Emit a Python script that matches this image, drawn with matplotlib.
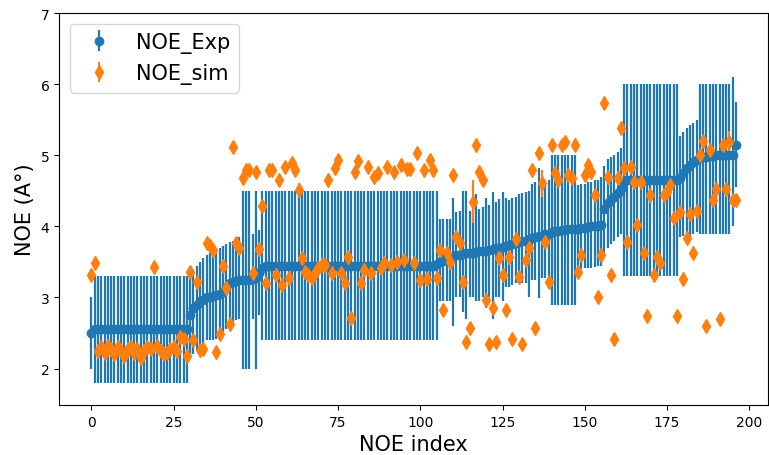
import matplotlib
matplotlib.use("Agg")
import matplotlib.pyplot as plt
import numpy as np

# Experimental NOE values (index 0..196)
noe_exp = ([2.5] + [2.55] * 29 +
           [2.75, 2.85, 2.9, 2.95, 2.97, 3.0, 3.0, 3.02, 3.03, 3.05,
            3.08, 3.15, 3.2, 3.22, 3.23, 3.24, 3.25, 3.25, 3.25, 3.26,
            3.28, 3.35, 3.42] +
           [3.45] * 52 +
           [3.47, 3.5, 3.52, 3.55, 3.57, 3.58, 3.6, 3.6, 3.61, 3.62,
            3.62, 3.63, 3.64, 3.65, 3.65, 3.66, 3.67, 3.68, 3.69, 3.7,
            3.71, 3.73, 3.74, 3.75, 3.77, 3.78, 3.79, 3.8, 3.82, 3.83,
            3.85, 3.86, 3.87, 3.89, 3.9, 3.92, 3.93, 3.94, 3.95, 3.95,
            3.96, 3.96, 3.97, 3.97, 3.98, 3.98, 3.99, 4.0, 4.0, 4.01,
            4.02, 4.25, 4.33, 4.38, 4.42, 4.47, 4.52, 4.62] +
           [4.65] * 16 +
           [4.68, 4.75, 4.82, 4.86, 4.9, 4.93, 4.96, 4.98, 4.98, 4.99,
            4.99, 5.0, 5.0, 5.0, 5.0, 5.0, 5.0, 5.15])

# Lower / upper experimental bounds
exp_low = ([2.0] + [1.8] * 29 +
           [2.15, 2.2, 2.25, 2.3, 2.35, 2.4, 2.4, 2.4, 2.42, 2.45,
            2.5, 2.55, 2.65, 2.66, 2.68, 2.7, 2.0, 2.0, 2.0, 2.7,
            2.0, 2.75] +
           [2.4] * 54 +
           [2.95, 2.95, 2.95, 2.95, 2.6, 3.0, 3.0, 2.8, 2.7, 3.0,
            3.0, 2.95, 2.95, 3.0, 2.85, 3.0, 2.7, 3.0, 3.0, 2.95,
            3.15, 3.15, 3.17, 3.2, 3.2, 3.2, 3.2, 3.0, 3.25, 3.25,
            2.99, 3.27, 3.27, 3.28] +
           [2.9] * 8 +
           [3.4, 3.4, 3.42, 3.42, 3.42, 3.43, 3.44, 3.45, 3.6, 3.7,
            3.75, 3.8, 3.85, 3.9] +
           [3.3] * 17 +
           [3.85, 3.87, 3.9, 3.8, 3.9, 3.92] +
           [3.9] * 10 +
           [4.0, 4.55])
exp_high = ([3.0] + [3.3] * 29 +
            [3.3, 3.38, 3.44, 3.5, 3.55, 3.6, 3.62, 3.65, 3.68, 3.7,
             3.72, 3.75, 3.78, 3.8, 3.82, 3.85, 4.5, 4.5, 4.5, 3.9,
             4.5, 3.95] +
            [4.5] * 54 +
            [4.1, 4.1, 4.1, 4.1, 4.4, 4.2, 4.22, 4.5, 4.5, 4.22,
             4.25, 4.45, 4.25, 4.27, 4.4, 4.3, 4.49, 4.35, 4.38, 4.49,
             4.4, 4.37, 4.4, 4.42, 4.45, 4.47, 4.49, 4.5, 4.6, 4.63,
             4.82, 4.63, 4.65, 4.65] +
            [5.0] * 8 +
            [4.58, 4.6, 4.6, 4.62, 4.63, 4.65, 4.65, 4.7, 4.85, 4.95,
             4.97, 5.0, 5.05, 5.1] +
            [6.0] * 17 +
            [5.27, 5.33, 5.38, 5.42, 5.45, 5.5] +
            [6.0] * 10 +
            [6.1, 5.75])

# Simulated NOE values
noe_sim = [3.32, 3.48, 2.25, 2.3, 2.22, 2.32, 2.28, 2.2, 2.3, 2.25,
           2.18, 2.28, 2.3, 2.22, 2.27, 2.15, 2.25, 2.3, 2.28, 3.43,
           2.32, 2.25, 2.2, 2.22, 2.27, 2.3, 2.25, 2.45, 2.42, 2.17,
           3.36, 2.4, 3.22, 2.26, 2.28, 3.76, 3.73, 3.67, 2.24, 2.49,
           3.45, 3.13, 2.63, 5.12, 3.76, 3.69, 4.68, 4.79, 4.8, 3.35,
           4.77, 3.68, 4.28, 3.2, 4.79, 4.8, 3.31, 4.65, 3.18, 4.84,
           3.27, 4.89, 4.79, 4.51, 3.55, 3.36, 3.31, 3.27, 3.34, 3.41,
           3.46, 3.46, 4.65, 3.34, 4.82, 4.93, 3.34, 3.2, 3.57, 2.71,
           4.77, 4.92, 3.21, 3.38, 4.83, 3.34, 4.7, 4.75, 3.41, 3.48,
           4.84, 3.46, 4.77, 3.5, 4.86, 3.53, 4.81, 4.81, 3.49, 5.03,
           3.24, 4.79, 3.26, 4.93, 4.79, 3.27, 3.67, 2.82, 3.62, 3.5,
           4.73, 3.85, 3.76, 3.22, 2.37, 2.57, 4.35, 5.14, 4.77, 4.65,
           2.96, 2.35, 2.85, 2.37, 3.56, 3.32, 2.82, 3.57, 2.42, 3.82,
           3.29, 2.35, 3.53, 3.69, 4.79, 2.57, 5.03, 4.61, 3.78, 3.22,
           5.15, 4.75, 4.65, 5.15, 5.19, 4.72, 4.68, 5.15, 3.36, 3.6,
           4.72, 4.86, 4.77, 4.44, 3.01, 3.6, 5.73, 4.7, 3.31, 2.42,
           4.68, 5.39, 4.82, 3.78, 4.84, 4.63, 4.02, 4.63, 3.62, 2.74,
           4.44, 3.31, 3.57, 3.49, 4.44, 4.49, 4.58, 4.12, 2.74, 4.2,
           3.26, 3.84, 4.17, 3.62, 4.21, 5.01, 5.2, 2.6, 5.07, 4.37,
           4.53, 2.7, 5.15, 4.52, 5.19, 4.37, 4.37]

# Visible simulated error bars (index, half-width)
sim_err_idx = [43, 63, 116, 137, 194]
sim_err_val = [0.05, 0.1, 0.3, 0.19, 0.15]

n = len(noe_exp)
x = np.arange(n)
exp = np.array(noe_exp)
yerr_exp = np.vstack([exp - np.array(exp_low), np.array(exp_high) - exp])
sim = np.array(noe_sim)
sim_err = np.zeros(n)
sim_err[sim_err_idx] = sim_err_val

fig = plt.figure(figsize=(7.69, 4.56), dpi=100)
ax = fig.add_axes([0.077, 0.11, 0.922, 0.859])
ax.errorbar(x, exp, yerr=yerr_exp, fmt='o', color='#1f77b4',
            markersize=6, elinewidth=1.6, label='NOE_Exp')
ax.errorbar(x, sim, yerr=sim_err, fmt='d', color='#ff7f0e',
            markersize=7, elinewidth=1.5, label='NOE_sim')
ax.set_ylim(1.49, 7)
ax.set_xticks([0, 25, 50, 75, 100, 125, 150, 175, 200])
ax.set_xlabel('NOE index', fontsize=15)
ax.set_ylabel('NOE (A°)', fontsize=15)
ax.tick_params(labelsize=10)
ax.legend(loc='upper left', fontsize=15)
fig.savefig('out.png', dpi=100)
